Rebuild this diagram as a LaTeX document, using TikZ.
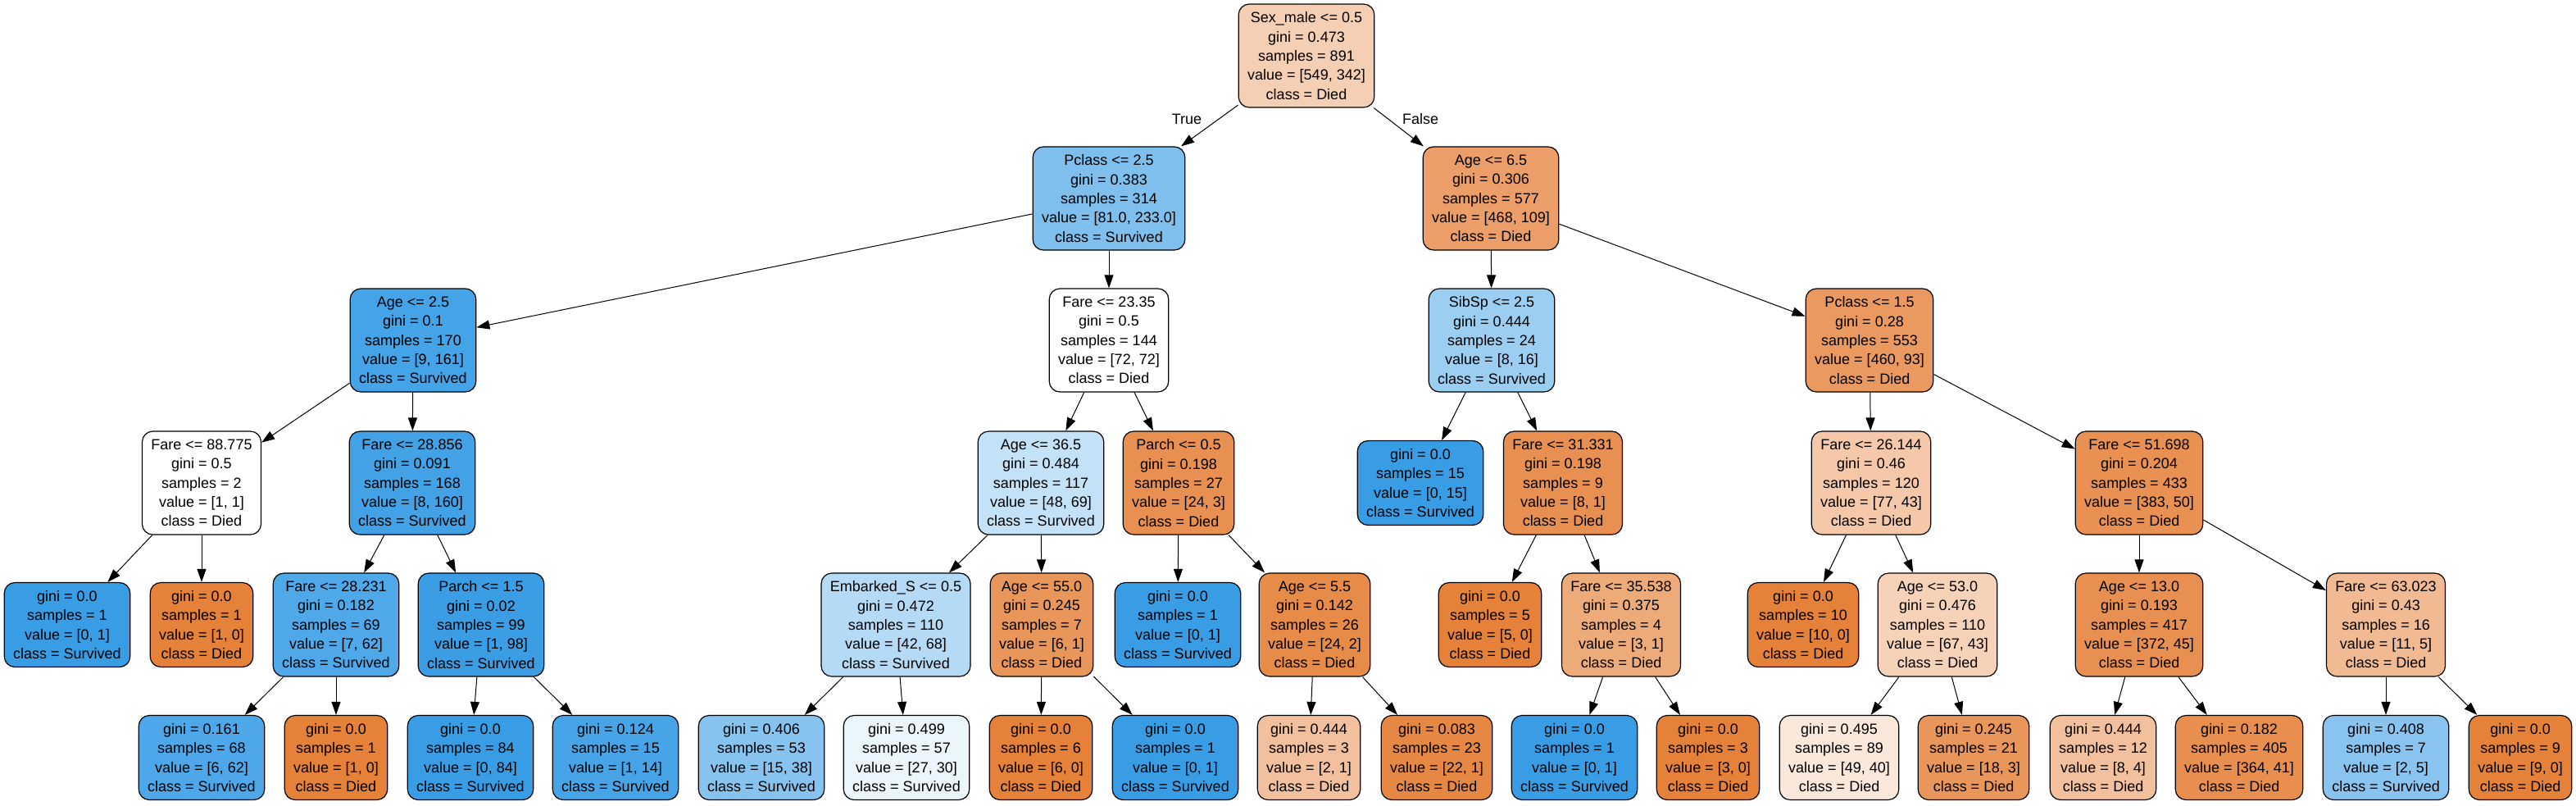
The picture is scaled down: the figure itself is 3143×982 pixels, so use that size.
\documentclass[tikz,border=0pt]{standalone}
\usepackage{fontspec}
\setmainfont{Liberation Sans}
\usetikzlibrary{arrows.meta}
\definecolor{died}{HTML}{E58139}
\definecolor{surv}{HTML}{399DE5}

\begin{document}
\begin{tikzpicture}[x=0.5pt,y=-0.5pt,
  box/.style={draw=black,line width=0.6pt,rounded corners=6.5pt,align=center,
    font=\fontsize{9}{11.65}\selectfont,inner xsep=5.5pt,inner ysep=1pt,minimum height=63pt},
  leaf/.style={box,minimum height=51.5pt},
  edge/.style={-{Triangle[length=8pt,width=5.5pt]},line width=0.5pt}]
\useasboundingbox (0,0) rectangle (3143,982);
% depth 0 and 1
\node[box,fill=died!38] (n0) at (1594,68) {Sex\_male <= 0.5\\gini = 0.473\\samples = 891\\value = [549, 342]\\class = Died};
\node[box,fill=surv!65] (n1) at (1353,242) {Pclass <= 2.5\\gini = 0.383\\samples = 314\\value = [81.0, 233.0]\\class = Survived};
\node[box,fill=died!77] (n26) at (1819,242) {Age <= 6.5\\gini = 0.306\\samples = 577\\value = [468, 109]\\class = Died};
% depth 2
\node[box,fill=surv!94] (n2) at (504,415) {Age <= 2.5\\gini = 0.1\\samples = 170\\value = [9, 161]\\class = Survived};
\node[box,fill=white] (n13) at (1353,415) {Fare <= 23.35\\gini = 0.5\\samples = 144\\value = [72, 72]\\class = Died};
\node[box,fill=surv!50] (n27) at (1820,415) {SibSp <= 2.5\\gini = 0.444\\samples = 24\\value = [8, 16]\\class = Survived};
\node[box,fill=died!80] (n34) at (2281,415) {Pclass <= 1.5\\gini = 0.28\\samples = 553\\value = [460, 93]\\class = Died};
% depth 3
\node[box,fill=white] (n3) at (246,589) {Fare <= 88.775\\gini = 0.5\\samples = 2\\value = [1, 1]\\class = Died};
\node[box,fill=surv!95] (n6) at (503,589) {Fare <= 28.856\\gini = 0.091\\samples = 168\\value = [8, 160]\\class = Survived};
\node[box,fill=surv!30] (n14) at (1270,589) {Age <= 36.5\\gini = 0.484\\samples = 117\\value = [48, 69]\\class = Survived};
\node[box,fill=died!88] (n21) at (1438,589) {Parch <= 0.5\\gini = 0.198\\samples = 27\\value = [24, 3]\\class = Died};
\node[leaf,fill=surv] (n28) at (1733,589) {gini = 0.0\\samples = 15\\value = [0, 15]\\class = Survived};
\node[box,fill=died!88] (n29) at (1907,589) {Fare <= 31.331\\gini = 0.198\\samples = 9\\value = [8, 1]\\class = Died};
\node[box,fill=died!44] (n35) at (2283,589) {Fare <= 26.144\\gini = 0.46\\samples = 120\\value = [77, 43]\\class = Died};
\node[box,fill=died!87] (n40) at (2610,589) {Fare <= 51.698\\gini = 0.204\\samples = 433\\value = [383, 50]\\class = Died};
% depth 4
\node[leaf,fill=surv] (n4) at (82,762) {gini = 0.0\\samples = 1\\value = [0, 1]\\class = Survived};
\node[leaf,fill=died] (n5) at (246,762) {gini = 0.0\\samples = 1\\value = [1, 0]\\class = Died};
\node[box,fill=surv!89] (n7) at (410,762) {Fare <= 28.231\\gini = 0.182\\samples = 69\\value = [7, 62]\\class = Survived};
\node[box,fill=surv!99] (n10) at (587,762) {Parch <= 1.5\\gini = 0.02\\samples = 99\\value = [1, 98]\\class = Survived};
\node[box,fill=surv!38] (n15) at (1093,762) {Embarked\_S <= 0.5\\gini = 0.472\\samples = 110\\value = [42, 68]\\class = Survived};
\node[box,fill=died!83] (n18) at (1271,762) {Age <= 55.0\\gini = 0.245\\samples = 7\\value = [6, 1]\\class = Died};
\node[leaf,fill=surv] (n22) at (1437,762) {gini = 0.0\\samples = 1\\value = [0, 1]\\class = Survived};
\node[box,fill=died!92] (n23) at (1604,762) {Age <= 5.5\\gini = 0.142\\samples = 26\\value = [24, 2]\\class = Died};
\node[leaf,fill=died] (n30) at (1818,762) {gini = 0.0\\samples = 5\\value = [5, 0]\\class = Died};
\node[box,fill=died!67] (n31) at (1978,762) {Fare <= 35.538\\gini = 0.375\\samples = 4\\value = [3, 1]\\class = Died};
\node[leaf,fill=died] (n36) at (2200,762) {gini = 0.0\\samples = 10\\value = [10, 0]\\class = Died};
\node[box,fill=died!36] (n37) at (2364,762) {Age <= 53.0\\gini = 0.476\\samples = 110\\value = [67, 43]\\class = Died};
\node[box,fill=died!88] (n41) at (2610,762) {Age <= 13.0\\gini = 0.193\\samples = 417\\value = [372, 45]\\class = Died};
\node[box,fill=died!55] (n44) at (2911,762) {Fare <= 63.023\\gini = 0.43\\samples = 16\\value = [11, 5]\\class = Died};
% depth 5
\node[leaf,fill=surv!90] (n8) at (246,924) {gini = 0.161\\samples = 68\\value = [6, 62]\\class = Survived};
\node[leaf,fill=died] (n9) at (410,924) {gini = 0.0\\samples = 1\\value = [1, 0]\\class = Died};
\node[leaf,fill=surv] (n11) at (574,924) {gini = 0.0\\samples = 84\\value = [0, 84]\\class = Survived};
\node[leaf,fill=surv!93] (n12) at (751,924) {gini = 0.124\\samples = 15\\value = [1, 14]\\class = Survived};
\node[leaf,fill=surv!61] (n16) at (929,924) {gini = 0.406\\samples = 53\\value = [15, 38]\\class = Survived};
\node[leaf,fill=surv!10] (n17) at (1106,924) {gini = 0.499\\samples = 57\\value = [27, 30]\\class = Survived};
\node[leaf,fill=died] (n19) at (1270,924) {gini = 0.0\\samples = 6\\value = [6, 0]\\class = Died};
\node[leaf,fill=surv] (n20) at (1434,924) {gini = 0.0\\samples = 1\\value = [0, 1]\\class = Survived};
\node[leaf,fill=died!50] (n24) at (1597,924) {gini = 0.444\\samples = 3\\value = [2, 1]\\class = Died};
\node[leaf,fill=died!95] (n25) at (1753,924) {gini = 0.083\\samples = 23\\value = [22, 1]\\class = Died};
\node[leaf,fill=surv] (n32) at (1921,924) {gini = 0.0\\samples = 1\\value = [0, 1]\\class = Survived};
\node[leaf,fill=died] (n33) at (2084,924) {gini = 0.0\\samples = 3\\value = [3, 0]\\class = Died};
\node[leaf,fill=died!18] (n38) at (2244,924) {gini = 0.495\\samples = 89\\value = [49, 40]\\class = Died};
\node[leaf,fill=died!83] (n39) at (2408,924) {gini = 0.245\\samples = 21\\value = [18, 3]\\class = Died};
\node[leaf,fill=died!50] (n42) at (2566,924) {gini = 0.444\\samples = 12\\value = [8, 4]\\class = Died};
\node[leaf,fill=died!89] (n43) at (2732,924) {gini = 0.182\\samples = 405\\value = [364, 41]\\class = Died};
\node[leaf,fill=surv!60] (n45) at (2911,924) {gini = 0.408\\samples = 7\\value = [2, 5]\\class = Survived};
\node[leaf,fill=died] (n46) at (3075,924) {gini = 0.0\\samples = 9\\value = [9, 0]\\class = Died};
% labels on the two root edges
\node[font=\fontsize{9}{11.65}\selectfont] (ltrue) at (1448,145) {True};
\node[font=\fontsize{9}{11.65}\selectfont] (lfalse) at (1733,145) {False};
% edges
\draw[edge] (n0) -- (n1); \draw[edge] (n0) -- (n26);
\draw[edge] (n1) -- (n2); \draw[edge] (n1) -- (n13);
\draw[edge] (n2) -- (n3); \draw[edge] (n2) -- (n6);
\draw[edge] (n3) -- (n4); \draw[edge] (n3) -- (n5);
\draw[edge] (n6) -- (n7); \draw[edge] (n6) -- (n10);
\draw[edge] (n7) -- (n8); \draw[edge] (n7) -- (n9);
\draw[edge] (n10) -- (n11); \draw[edge] (n10) -- (n12);
\draw[edge] (n13) -- (n14); \draw[edge] (n13) -- (n21);
\draw[edge] (n14) -- (n15); \draw[edge] (n14) -- (n18);
\draw[edge] (n15) -- (n16); \draw[edge] (n15) -- (n17);
\draw[edge] (n18) -- (n19); \draw[edge] (n18) -- (n20);
\draw[edge] (n21) -- (n22); \draw[edge] (n21) -- (n23);
\draw[edge] (n23) -- (n24); \draw[edge] (n23) -- (n25);
\draw[edge] (n26) -- (n27); \draw[edge] (n26) -- (n34);
\draw[edge] (n27) -- (n28); \draw[edge] (n27) -- (n29);
\draw[edge] (n29) -- (n30); \draw[edge] (n29) -- (n31);
\draw[edge] (n31) -- (n32); \draw[edge] (n31) -- (n33);
\draw[edge] (n34) -- (n35); \draw[edge] (n34) -- (n40);
\draw[edge] (n35) -- (n36); \draw[edge] (n35) -- (n37);
\draw[edge] (n37) -- (n38); \draw[edge] (n37) -- (n39);
\draw[edge] (n40) -- (n41); \draw[edge] (n40) -- (n44);
\draw[edge] (n41) -- (n42); \draw[edge] (n41) -- (n43);
\draw[edge] (n44) -- (n45); \draw[edge] (n44) -- (n46);
\end{tikzpicture}
\end{document}
